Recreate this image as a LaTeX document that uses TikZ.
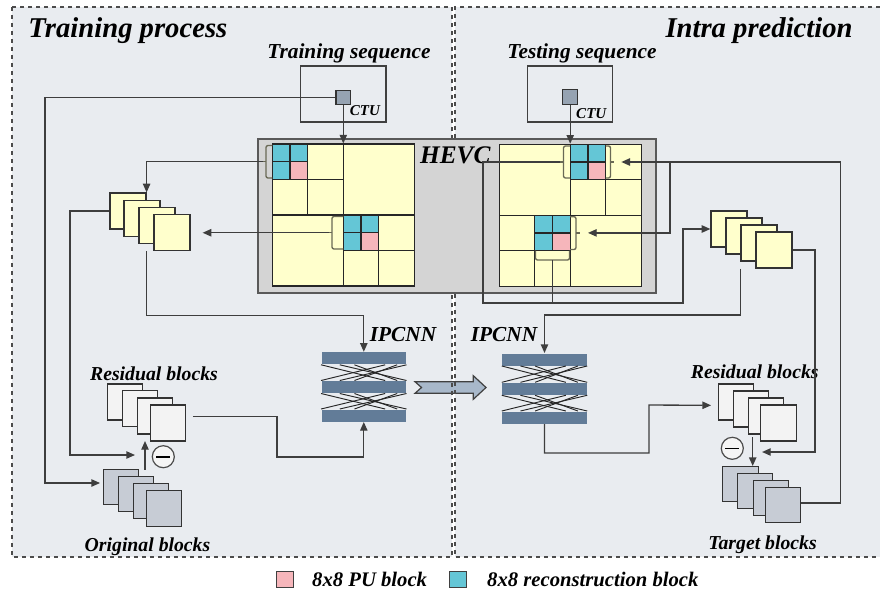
\documentclass[tikz,border=0pt]{standalone}
\usepackage{fontspec}
\setmainfont{Liberation Serif}
\usetikzlibrary{arrows.meta}

\definecolor{panelbg}{RGB}{233,236,240}
\definecolor{hevcbg}{RGB}{212,212,212}
\definecolor{cuyellow}{RGB}{255,255,204}
\definecolor{cellcyan}{RGB}{100,198,214}
\definecolor{cellpink}{RGB}{246,182,187}
\definecolor{nnblue}{RGB}{98,124,152}
\definecolor{resfill}{RGB}{243,243,243}
\definecolor{origfill}{RGB}{199,204,213}
\definecolor{ctufill}{RGB}{150,163,178}
\definecolor{bigarrfill}{RGB}{168,184,202}
\definecolor{linegray}{RGB}{62,62,62}
\definecolor{brkcol}{RGB}{105,105,85}

\tikzset{every picture/.style={line width=0.75pt}}
\tikzset{
  conn/.style={draw=linegray, line width=1pt},
  arr/.style={conn, -{Triangle[length=6.5pt,width=5.5pt]}},
  panelframe/.style={draw=black!70, dashed, line width=0.8pt},
  hevcbox/.style={draw=black!65, fill=hevcbg, line width=1.3pt},
  ctugrid/.style={draw=black!85, fill=cuyellow, line width=0.9pt, minimum size=106.4pt, inner sep=0pt},
  gline/.style={draw=black!85, line width=0.9pt},
  cyancell/.style={draw=black!85, fill=cellcyan, line width=0.9pt},
  pinkcell/.style={draw=black!85, fill=cellpink, line width=0.9pt},
  brk/.style={draw=brkcol, line width=1pt, rounded corners=1.5pt},
  seqbox/.style={draw=black!75, line width=0.9pt, minimum width=64pt, minimum height=42pt, inner sep=0pt},
  ctusq/.style={draw=black!80, fill=ctufill, line width=0.9pt, minimum size=11pt, inner sep=0pt},
  yblk/.style={draw=black!80, line width=0.9pt, fill=cuyellow, minimum width=27pt, minimum height=27pt, inner sep=0pt},
  rblk/.style={yblk, fill=resfill, minimum width=26.5pt},
  oblk/.style={yblk, fill=origfill, minimum width=26.5pt, minimum height=26.5pt},
  nnbar/.style={fill=nnblue, minimum width=63.3pt, minimum height=9pt, inner sep=0pt},
  xline/.style={draw=black!85, line width=0.7pt},
  minus/.style={circle, draw=black!70, fill=white!96!black, line width=0.9pt, minimum size=16.5pt, inner sep=0pt},
  bigarr/.style={draw=black!75, fill=bigarrfill, line width=0.9pt},
  legsq/.style={draw=black!75, line width=0.8pt, minimum size=12.5pt, inner sep=0pt},
  ttl/.style={font=\fontsize{21.5}{24}\selectfont\bfseries\itshape, inner sep=0pt},
  sublbl/.style={font=\fontsize{16}{18}\selectfont\bfseries\itshape, inner sep=0pt},
  blklbl/.style={font=\fontsize{14.8}{17}\selectfont\bfseries\itshape, inner sep=0pt},
  nnlbl/.style={font=\fontsize{16}{18}\selectfont\bfseries\itshape, inner sep=0pt},
  hevclbl/.style={font=\fontsize{19}{21}\selectfont\bfseries\itshape, inner sep=0pt},
  ctulbl/.style={font=\fontsize{11.3}{13}\selectfont\bfseries\itshape, inner sep=0pt},
  leglbl/.style={font=\fontsize{15.5}{17}\selectfont\bfseries\itshape, inner sep=0pt}
}

\begin{document}
\begin{tikzpicture}[x=0.75pt,y=0.75pt,yscale=-1,xscale=1]
\useasboundingbox (0,0) rectangle (880,592);

%Shape: Rectangle (panels)
\fill[panelbg] (12,7) rectangle (452,557);
\fill[panelbg] (455,7) rectangle (880,557);

%Shape: Arrow (training -> prediction)
\draw[bigarr] (415,381.7) -- (473.3,381.7) -- (473.3,375.7) -- (486,387.5) -- (473.3,399.3) -- (473.3,393.3) -- (415,393.3) -- (421.5,387.5) -- cycle;

%Shape: dashed frames
\draw[panelframe] (12,7) rectangle (452,557);
\draw[panelframe] (880,7) -- (455,7) -- (455,557) -- (880,557);

% Text Node
\draw (28,37.5) node (ttlL) [ttl, anchor=base west] {Training process};
% Text Node
\draw (665,37.5) node (ttlR) [ttl, anchor=base west] {Intra prediction};

%Shape: Rectangle (sequences)
\draw (343.3,94) node (seqL) [seqbox] {};
\draw (570.2,94) node (seqR) [seqbox] {};
% Text Node
\draw (349,58.3) node (seqLtxt) [sublbl, anchor=base] {Training sequence};
% Text Node
\draw (582,58.3) node (seqRtxt) [sublbl, anchor=base] {Testing sequence};
%Shape: CTU squares
\draw (343.3,97.5) node (ctuL) [ctusq] {};
\draw (570.2,97) node (ctuR) [ctusq] {};
% Text Node
\draw (365,115) node (ctuLtxt) [ctulbl, anchor=base] {CTU};
% Text Node
\draw (591.3,118) node (ctuRtxt) [ctulbl, anchor=base] {CTU};

%Shape: Rectangle (HEVC)
\draw[hevcbox] (258,139) rectangle (656,293);
% Text Node
\draw (455.3,163.3) node (hevc) [hevclbl, anchor=base] {HEVC};

%Shape: CTU partition, training side
\draw (343.3,215) node (gridL) [ctugrid] {};
\draw[gline] (343.3,144) -- (343.3,286);
\draw[gline] (272.3,215) -- (414.3,215);
\draw[gline] (307.8,144) -- (307.8,215);
\draw[gline] (272.3,179.5) -- (343.3,179.5);
\draw[gline] (378.8,215) -- (378.8,286);
\draw[gline] (343.3,250.5) -- (414.3,250.5);
\draw[cyancell] (272.3,144) rectangle (290.05,161.75);
\draw[cyancell] (290.05,144) rectangle (307.8,161.75);
\draw[cyancell] (272.3,161.75) rectangle (290.05,179.5);
\draw[pinkcell] (290.05,161.75) rectangle (307.8,179.5);
\draw[cyancell] (343.3,215) rectangle (361.05,232.75);
\draw[cyancell] (361.05,215) rectangle (378.8,232.75);
\draw[cyancell] (343.3,232.75) rectangle (361.05,250.5);
\draw[pinkcell] (361.05,232.75) rectangle (378.8,250.5);
%brackets
\draw[brk] (272.3,145.5) -- (266,145.5) -- (266,178) -- (272.3,178);
\draw[brk] (266,161.75) -- (263,161.75);
\coordinate (brTL) at (263,161.75);
\draw[brk] (343.3,216.5) -- (332,216.5) -- (332,249) -- (343.3,249);
\draw[brk] (332,232.75) -- (329,232.75);
\coordinate (brBL) at (329,232.75);

%Shape: CTU partition, prediction side
\draw (570.2,215.2) node (gridR) [ctugrid] {};
\draw[gline] (570.2,144.3) -- (570.2,286);
\draw[gline] (499.3,215.2) -- (641,215.2);
\draw[gline] (605.6,144.3) -- (605.6,215.2);
\draw[gline] (570.2,179.7) -- (641,179.7);
\draw[gline] (534.7,215.2) -- (534.7,286);
\draw[gline] (499.3,250.6) -- (570.2,250.6);
\draw[cyancell] (570.2,144.3) rectangle (587.9,162);
\draw[cyancell] (587.9,144.3) rectangle (605.6,162);
\draw[cyancell] (570.2,162) rectangle (587.9,179.7);
\draw[pinkcell] (587.9,162) rectangle (605.6,179.7);
\draw[cyancell] (534.7,215.2) rectangle (552.4,232.9);
\draw[cyancell] (552.4,215.2) rectangle (570.2,232.9);
\draw[cyancell] (534.7,232.9) rectangle (552.4,250.6);
\draw[pinkcell] (552.4,232.9) rectangle (570.2,250.6);
%brackets
\draw[brk] (570.2,146) -- (563.5,146) -- (563.5,178) -- (570.2,178);
\draw[brk] (563.5,162) -- (560,162);
\coordinate (brTR) at (560,162);
\draw[brk] (605.6,146) -- (610.5,146) -- (610.5,178) -- (605.6,178);
\draw[brk] (610.5,162) -- (614,162);
\coordinate (brTRr) at (614,162);
\draw[brk] (570.2,216.7) -- (576,216.7) -- (576,249.5) -- (570.2,249.5);
\draw[brk] (576,232.9) -- (580,232.9);
\coordinate (brBRr) at (580,232.9);
\draw[brk] (535.5,250.6) -- (535.5,260) -- (569.5,260) -- (569.5,250.6);
\coordinate (brBR) at (552.4,260);

%Shape: block stacks, training side
\draw (128,211) node (s1) [yblk] {};
\draw (142,218.5) node (s2) [yblk] {};
\draw (157,225.5) node (s3) [yblk] {};
\draw (172,232.75) node (s4) [yblk] {};
\draw (125,402) node (r1) [rblk] {};
\draw (140,408.5) node (r2) [rblk] {};
\draw (155,416) node (r3) [rblk] {};
\draw (168,423) node (r4) [rblk] {};
\draw (121,487) node (o1) [oblk] {};
\draw (136,494) node (o2) [oblk] {};
\draw (151,501) node (o3) [oblk] {};
\draw (164,508.5) node (o4) [oblk] {};
% Text Node
\draw (154,380) node (rlblL) [blklbl, anchor=base] {Residual blocks};
% Text Node
\draw (147.5,551.7) node (olbl) [blklbl, anchor=base] {Original blocks};

%Shape: block stacks, prediction side
\draw (729,229) node (ry1) [yblk] {};
\draw (744,236) node (ry2) [yblk] {};
\draw (759,243) node (ry3) [yblk] {};
\draw (774,250) node (ry4) [yblk] {};
\draw (736,402) node (rr1) [rblk] {};
\draw (751,409) node (rr2) [rblk] {};
\draw (766,416) node (rr3) [rblk] {};
\draw (778.5,423) node (rr4) [rblk] {};
\draw (740.5,484) node (t1) [oblk] {};
\draw (755,491) node (t2) [oblk] {};
\draw (771,498) node (t3) [oblk] {};
\draw (783,505) node (t4) [oblk] {};
% Text Node
\draw (754.7,378.3) node (rlblR) [blklbl, anchor=base] {Residual blocks};
% Text Node
\draw (762.5,549.3) node (tlbl) [blklbl, anchor=base] {Target blocks};

%Shape: IPCNN
\draw (363.8,358.3) node (nnL1) [nnbar] {};
\draw (363.8,387) node (nnL2) [nnbar] {};
\draw (363.8,415.5) node (nnL3) [nnbar] {};
\draw (544.5,359.5) node (nnR1) [nnbar] {};
\draw (544.5,388.8) node (nnR2) [nnbar] {};
\draw (544.5,417.5) node (nnR3) [nnbar] {};
\foreach \a/\b in {nnL1/nnL2, nnL2/nnL3, nnR1/nnR2, nnR2/nnR3}{
  \draw[xline] (\a.south west) -- ([xshift=-16pt]\b.north east);
  \draw[xline] (\b.north west) -- ([xshift=-16pt]\a.south east);
  \draw[xline] ([xshift=14pt]\a.south west) -- (\b.north east);
  \draw[xline] ([xshift=14pt]\b.north west) -- (\a.south east);
  \draw[xline] ([xshift=25pt]\a.south west) -- ([xshift=-7pt]\b.north east);
  \draw[xline] ([xshift=25pt]\b.north west) -- ([xshift=-7pt]\a.south east);
}
% Text Node
\draw (403,341.7) node (nnLtxt) [nnlbl, anchor=base] {IPCNN};
% Text Node
\draw (504,341.7) node (nnRtxt) [nnlbl, anchor=base] {IPCNN};

%Shape: subtraction
\coordinate (subL) at (145,455);
\coordinate (subR) at (752.7,452);
\draw (163.3,456.7) node (minL) [minus] {};
\draw[line width=1.2pt] ([xshift=3.5pt]minL.west) -- ([xshift=-3.5pt]minL.east);
\draw (732.3,448.3) node (minR) [minus] {};
\draw[line width=1.2pt] ([xshift=3.5pt]minR.west) -- ([xshift=-3.5pt]minR.east);

%Straight Lines (training side)
\draw[arr] (ctuL.south) -- (gridL.north);
\draw[arr] (ctuL.west) -| (45,483) -- ([xshift=-2pt,yshift=-3pt]o1.west);
\draw[arr] (brTL) -| (s1.north east);
\draw[arr] (brBL) -- ([xshift=9pt]s4.east);
\draw[arr] (s1.west) -| (70,455) -- ([xshift=-7.5pt]subL);
\draw[arr] ([yshift=11pt]subL) -- ([yshift=-10.5pt]subL);
\draw[arr] (s1.east |- s4.south) -- ++(0,64) -| (nnL1.north);
\draw[arr] ([xshift=5pt,yshift=-5pt]r4.east) -| (277,457) -| (nnL3.south);

%Straight Lines (prediction side)
\draw[arr] (ctuR.south) -- (gridR.north);
\draw[arr] (brTR) -| (483,303) -| (683,229) -- (ry1.west);
\draw[conn] (brBR) -- (552.4,303);
\draw[arr] ([yshift=-1.5pt]t4.east) -| (840.7,162) -- ([xshift=5.5pt]brTRr);
\coordinate (jR) at (670,162);
\draw[arr] (jR) |- ([xshift=6pt]brBRr);
\draw[arr] (ry3.west |- ry4.south) -- ++(0,46.5) -| (nnR1.north);
\draw[arr] (ry4.east) -| (815,452) -- ([xshift=7pt]subR);
\draw[arr] ([yshift=-11pt]subR) -- ([yshift=10.5pt]subR);
\draw[arr] (nnR3.south) -- ++(0,29) -| (649,405) -- ([xshift=-5pt,yshift=2.5pt]rr1.west);

%Shape: legend
\draw (285,579.5) node (legPU) [legsq, fill=cellpink] {};
\draw (457.8,579.5) node (legRec) [legsq, fill=cellcyan] {};
% Text Node
\draw (311.7,586) node (legPUtxt) [leglbl, anchor=base west] {8x8 PU block};
% Text Node
\draw (486.7,586) node (legRectxt) [leglbl, anchor=base west] {8x8 reconstruction block};

\end{tikzpicture}
\end{document}
